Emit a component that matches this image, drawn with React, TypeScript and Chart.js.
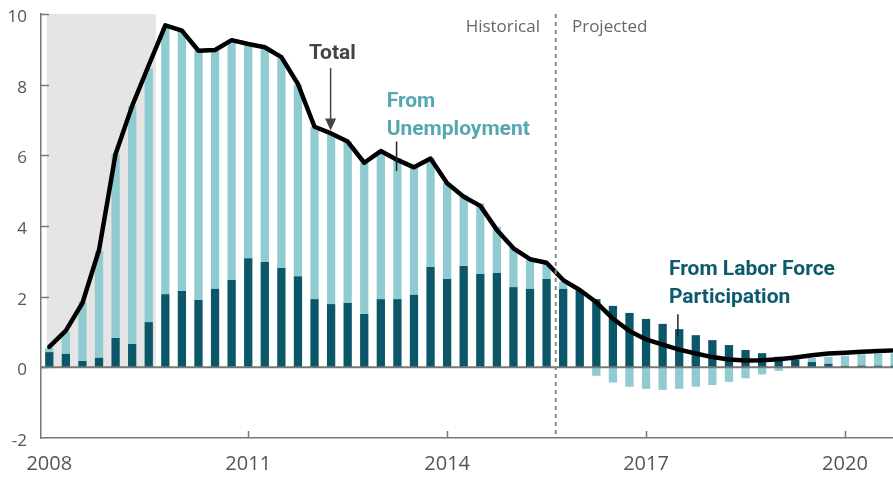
import React, { useEffect, useRef } from "react";
import { Chart, registerables } from "chart.js";
Chart.register(...registerables);

// Quarterly categories 2008Q1 .. 2020Q4
const firstYear = 2008;
const lastYear = 2020;
const quarters: string[] = [];
for (let yr = firstYear; yr <= lastYear; yr++) {
  for (let q = 1; q <= 4; q++) quarters.push(`${yr}Q${q}`);
}
const yearTicks = ["2008", "2011", "2014", "2017", "2020"];
const yTicks = [-2, 0, 2, 4, 6, 8, 10];

// From Labor Force Participation (dark)
const laborForce = [
  0.43, 0.38, 0.18, 0.27, 0.83, 0.66, 1.28, 2.07, 2.16, 1.91, 2.22, 2.47, 3.09,
  2.98, 2.81, 2.58, 1.93, 1.79, 1.82, 1.51, 1.93, 1.93, 2.05, 2.84, 2.5, 2.87,
  2.64, 2.67, 2.27, 2.22, 2.5, 2.22, 2.16, 1.93, 1.74, 1.54, 1.37, 1.23, 1.08,
  0.91, 0.77, 0.63, 0.49, 0.4, 0.3, 0.22, 0.15, 0.1, 0.04, 0.05, 0.05, 0.05,
];
// From Unemployment (light)
const unemployment = [
  0.12, 0.62, 1.68, 3.02, 5.21, 6.74, 7.18, 7.55, 7.33, 7.04, 6.73, 6.73, 6.01,
  6.07, 5.94, 5.42, 4.88, 4.79, 4.57, 4.28, 4.17, 3.99, 3.63, 3.08, 2.72, 2.01,
  2.0, 1.31, 1.11, 0.82, 0.45, 0.2, 0.03, -0.24, -0.43, -0.55, -0.61, -0.64,
  -0.61, -0.55, -0.5, -0.41, -0.31, -0.2, -0.1, 0.04, 0.12, 0.2, 0.29, 0.32,
  0.34, 0.35,
];
// Total
const total = [
  0.58, 1.04, 1.82, 3.32, 6.04, 7.4, 8.55, 9.68, 9.53, 8.96, 8.98, 9.26, 9.15,
  9.06, 8.78, 8.02, 6.81, 6.62, 6.39, 5.79, 6.12, 5.87, 5.66, 5.91, 5.21, 4.83,
  4.57, 3.89, 3.37, 3.06, 2.96, 2.47, 2.19, 1.84, 1.38, 1.03, 0.79, 0.64, 0.5,
  0.39, 0.29, 0.22, 0.19, 0.2, 0.23, 0.28, 0.34, 0.39, 0.41, 0.44, 0.46, 0.48,
];

const recessionSpan = [-0.15, 6.43]; // in quarter-index units
const projectionStart = 30.55;

const DARK = "#0b5769";
const LIGHT = "#8fcbd1";
const AXIS = "#777777";
const TICKTXT = "#555555";

const decor = {
  id: "decor",
  beforeDatasetsDraw(chart: any) {
    const { ctx, chartArea: a, scales } = chart;
    const x = scales.x, y = scales.y;
    ctx.save();
    const x0 = x.getPixelForValue(recessionSpan[0]);
    const x1 = x.getPixelForValue(recessionSpan[1]);
    ctx.fillStyle = "#e5e5e5";
    ctx.fillRect(x0, a.top, x1 - x0, y.getPixelForValue(0) - a.top);
    ctx.restore();
  },
  beforeDatasetDraw(chart: any, args: any) {
    if (args.meta.type !== "line") return;
    const { ctx, chartArea: a, scales } = chart;
    const y = scales.y;
    ctx.save();
    ctx.strokeStyle = AXIS;
    ctx.lineWidth = 2;
    const y0 = y.getPixelForValue(0);
    ctx.beginPath();
    ctx.moveTo(a.left, y0);
    ctx.lineTo(a.right, y0);
    ctx.stroke();
    ctx.restore();
  },
  afterDatasetsDraw(chart: any) {
    const { ctx, chartArea: a, scales } = chart;
    const x = scales.x, y = scales.y;
    ctx.save();
    // y tick marks (inward)
    ctx.strokeStyle = AXIS;
    ctx.lineWidth = 1.5;
    yTicks.forEach((v) => {
      if (v === -2) return;
      const py = Math.round(y.getPixelForValue(v)) + 0.5;
      ctx.beginPath();
      ctx.moveTo(a.left, py);
      ctx.lineTo(a.left + 8, py);
      ctx.stroke();
    });
    // x tick marks (inward)
    quarters.forEach((q, i) => {
      const yr = q.slice(0, 4);
      if (!q.endsWith("Q1") || !yearTicks.includes(yr) || i === 0) return;
      const px = Math.round(x.getPixelForValue(i)) + 0.5;
      ctx.beginPath();
      ctx.moveTo(px, a.bottom);
      ctx.lineTo(px, a.bottom - 7);
      ctx.stroke();
    });
    // projection divider
    const dx = x.getPixelForValue(projectionStart);
    ctx.strokeStyle = "#888888";
    ctx.lineWidth = 2;
    ctx.setLineDash([4, 4]);
    ctx.beginPath();
    ctx.moveTo(dx, a.top);
    ctx.lineTo(dx, a.bottom);
    ctx.stroke();
    ctx.setLineDash([]);

    // labels Historical / Projected
    ctx.font = "17px 'Open Sans'";
    ctx.fillStyle = "#666666";
    ctx.textBaseline = "alphabetic";
    ctx.textAlign = "right";
    ctx.fillText("Historical", x.getPixelForValue(29.6), y.getPixelForValue(9.5));
    ctx.textAlign = "left";
    ctx.fillText("Projected", x.getPixelForValue(31.53), y.getPixelForValue(9.5));

    // Total annotation
    ctx.font = "bold 21px Roboto";
    ctx.fillStyle = "#444444";
    ctx.fillText("Total", x.getPixelForValue(15.66), y.getPixelForValue(8.72));
    const ax = x.getPixelForValue(16.97);
    const aTop = y.getPixelForValue(8.47);
    const aTip = y.getPixelForValue(6.7);
    ctx.strokeStyle = "#444444";
    ctx.lineWidth = 1.5;
    ctx.beginPath();
    ctx.moveTo(ax, aTop);
    ctx.lineTo(ax, aTip - 10);
    ctx.stroke();
    ctx.beginPath();
    ctx.moveTo(ax - 5.5, aTip - 12);
    ctx.lineTo(ax + 5.5, aTip - 12);
    ctx.lineTo(ax, aTip);
    ctx.closePath();
    ctx.fillStyle = "#444444";
    ctx.fill();

    // From Unemployment
    ctx.fillStyle = "#56a8b0";
    ctx.fillText("From", x.getPixelForValue(20.35), y.getPixelForValue(7.38));
    ctx.fillText("Unemployment", x.getPixelForValue(20.35), y.getPixelForValue(6.58));
    ctx.strokeStyle = "#222222";
    ctx.lineWidth = 1.5;
    const ux = x.getPixelForValue(20.95);
    ctx.beginPath();
    ctx.moveTo(ux, y.getPixelForValue(6.39));
    ctx.lineTo(ux, y.getPixelForValue(5.56));
    ctx.stroke();

    // From Labor Force Participation
    ctx.fillStyle = "#0c5a6c";
    ctx.fillText("From Labor Force", x.getPixelForValue(37.38), y.getPixelForValue(2.61));
    ctx.fillText("Participation", x.getPixelForValue(37.38), y.getPixelForValue(1.83));
    const lx = x.getPixelForValue(37.92);
    ctx.beginPath();
    ctx.moveTo(lx, y.getPixelForValue(1.5));
    ctx.lineTo(lx, y.getPixelForValue(0.87));
    ctx.stroke();
    ctx.restore();
  },
};

export default function App() {
  const ref = useRef<HTMLCanvasElement | null>(null);
  useEffect(() => {
    if (!ref.current) return;
    const chart = new Chart(ref.current, {
      type: "bar",
      data: {
        labels: quarters,
        datasets: [
          {
            type: "bar",
            label: "From Labor Force Participation",
            data: laborForce,
            backgroundColor: DARK,
            barPercentage: 0.5,
            categoryPercentage: 1.0,
            order: 1,
          },
          {
            type: "bar",
            label: "From Unemployment",
            data: unemployment,
            backgroundColor: LIGHT,
            barPercentage: 0.5,
            categoryPercentage: 1.0,
            order: 1,
          },
          {
            type: "line",
            label: "Total",
            data: total,
            borderColor: "#000000",
            borderWidth: 4.5,
            pointRadius: 0,
            tension: 0,
            fill: false,
            order: 0,
            borderJoinStyle: "round",
            borderCapStyle: "round",
          } as any,
        ],
      },
      options: {
        responsive: false,
        animation: false,
        devicePixelRatio: 1,
        layout: { padding: { top: 14, right: 0, left: 0, bottom: 0 } },
        plugins: { legend: { display: false }, tooltip: { enabled: false } },
        scales: {
          x: {
            stacked: true,
            offset: true,
            grid: { display: false, drawTicks: false },
            border: { display: true, color: AXIS, width: 1.5 },
            ticks: {
              autoSkip: false,
              maxRotation: 0,
              minRotation: 0,
              padding: 14,
              color: TICKTXT,
              font: { family: "'Open Sans'", size: 20 },
              callback: (_v: any, i: number) => {
                const q = quarters[i];
                const yr = q.slice(0, 4);
                return q.endsWith("Q1") && yearTicks.includes(yr) ? yr : "";
              },
            },
            afterFit: (s: any) => {
              s.height = 40;
              s.paddingLeft = 0;
              s.paddingRight = 0;
            },
          },
          y: {
            stacked: true,
            min: -2,
            max: 10,
            grid: { display: false, drawTicks: false },
            border: { display: true, color: AXIS, width: 1.5 },
            ticks: {
              stepSize: 2,
              padding: 14,
              labelOffset: 3,
              color: TICKTXT,
              font: { family: "'Open Sans'", size: 17 },
            },
            afterFit: (s: any) => {
              s.width = 41;
              s.paddingTop = 0;
              s.paddingBottom = 0;
            },
          },
        },
      },
      plugins: [decor],
    });
    return () => chart.destroy();
  }, []);
  return (
    <div
      style={{
        position: "fixed",
        left: 0,
        top: 0,
        width: 893,
        height: 478,
        overflow: "hidden",
        background: "#ffffff",
      }}
    >
      <canvas ref={ref} width={903} height={478} style={{ display: "block" }} />
    </div>
  );
}
